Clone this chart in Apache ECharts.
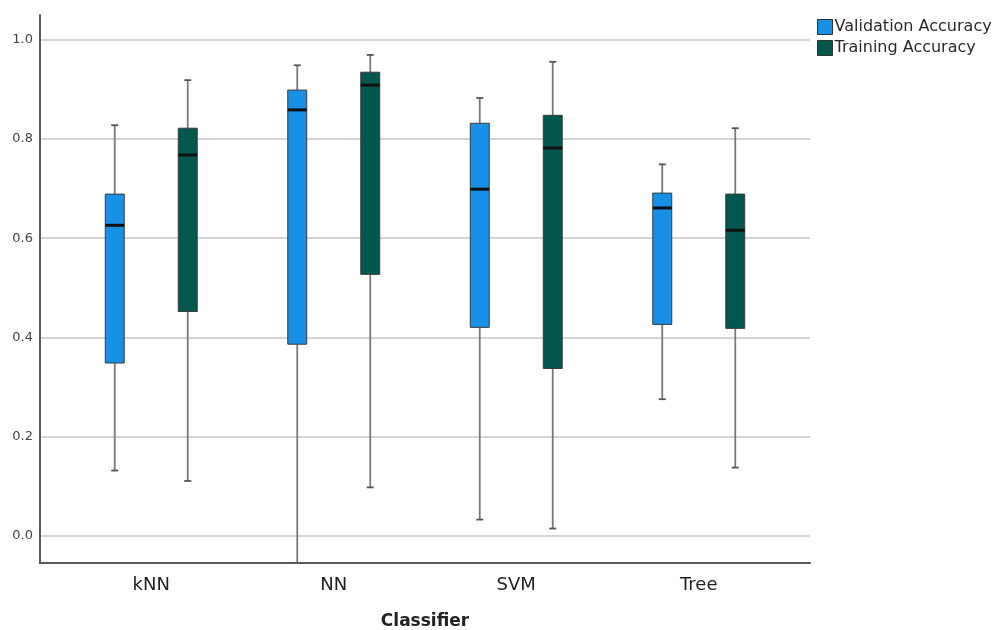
<!DOCTYPE html>
<html>
<head>
<meta charset="utf-8">
<script src="https://cdn.jsdelivr.net/npm/echarts@6/dist/echarts.min.js"></script>
<style>
  html, body { margin: 0; padding: 0; background: #fff; }
  #chart { width: 997px; height: 630px; }
</style>
</head>
<body>
<div id="chart"></div>
<script>
const classifiers = ['kNN', 'NN', 'SVM', 'Tree']
// [min, q1, median, q3, max] per classifier
const validationAcc = [
  [0.131, 0.348, 0.626, 0.689, 0.828],
  [-0.0556, 0.386, 0.859, 0.899, 0.949],
  [0.032, 0.420, 0.699, 0.832, 0.883],
  [0.275, 0.426, 0.661, 0.691, 0.749],
]
const trainingAcc = [
  [0.110, 0.452, 0.768, 0.822, 0.919],
  [0.097, 0.527, 0.909, 0.935, 0.970],
  [0.014, 0.337, 0.782, 0.848, 0.956],
  [0.137, 0.418, 0.616, 0.689, 0.822],
]
const seriesNames = ['Validation Accuracy', 'Training Accuracy']
const seriesColors = ['#1790e6', '#02574f']

const yMin = -0.0556
const yMax = 1.0505
const FONT = 'DejaVu Sans'

const renderBox = (params, api) => {
  const cat = api.value(0)
  const band = api.size([1, 0])[0]
  const off = (params.seriesIndex === 0 ? -0.2 : 0.2) * band
  const w = band * 0.104
  const x = api.coord([cat, 0])[0] + off
  const yLo = api.coord([cat, api.value(1)])[1]
  const yQ1 = api.coord([cat, api.value(2)])[1]
  const yMed = api.coord([cat, api.value(3)])[1]
  const yQ3 = api.coord([cat, api.value(4)])[1]
  const yHi = api.coord([cat, api.value(5)])[1]
  const whisker = { stroke: '#7a7a7a', lineWidth: 1.8 }
  const cap = 3.5
  return {
    type: 'group',
    children: [
      { type: 'line', shape: { x1: x, y1: yLo, x2: x, y2: yQ1 }, style: whisker },
      { type: 'line', shape: { x1: x, y1: yQ3, x2: x, y2: yHi }, style: whisker },
      { type: 'line', shape: { x1: x - cap, y1: yLo, x2: x + cap, y2: yLo }, style: { stroke: '#555', lineWidth: 1.8 } },
      { type: 'line', shape: { x1: x - cap, y1: yHi, x2: x + cap, y2: yHi }, style: { stroke: '#555', lineWidth: 1.8 } },
      {
        type: 'rect',
        shape: { x: x - w / 2, y: yQ3, width: w, height: yQ1 - yQ3 },
        style: { fill: api.visual('color'), stroke: '#3c3c3c', lineWidth: 1 },
      },
      { type: 'line', shape: { x1: x - w / 2, y1: yMed, x2: x + w / 2, y2: yMed }, style: { stroke: '#111', lineWidth: 3 } },
    ],
  }
}

const buildData = (stats) => stats.map((s, i) => [i, ...s])

const chart = echarts.init(document.getElementById('chart'))
chart.setOption({
  animation: false,
  backgroundColor: '#fff',
  textStyle: { fontFamily: FONT },
  legend: {
    orient: 'vertical',
    left: 812,
    top: 14,
    itemWidth: 15,
    itemHeight: 15,
    itemGap: 5,
    icon: 'rect',
    data: seriesNames.map(n => ({ name: n, itemStyle: { borderColor: '#333', borderWidth: 1 } })),
    textStyle: { fontFamily: FONT, fontSize: 16, color: '#2a2a2a', padding: [0, 0, 0, -3] },
  },
  grid: [
    { left: 40, right: 187, top: 15, bottom: 67, outerBoundsMode: 'none' },
    { left: 60, width: 730, top: 15, bottom: 67, outerBoundsMode: 'none' },
  ],
  xAxis: [
    {
      gridIndex: 0,
      type: 'value',
      min: 0,
      max: 1,
      axisLine: { show: true, onZero: false, lineStyle: { color: '#5a5a5a', width: 2 } },
      axisTick: { show: false },
      axisLabel: { show: false },
      splitLine: { show: false },
    },
    {
      gridIndex: 1,
      type: 'category',
      data: classifiers,
      axisLine: { show: false },
      axisTick: { show: false },
      axisLabel: { color: '#222', fontSize: 18, fontFamily: FONT, margin: 13 },
      name: 'Classifier',
      nameLocation: 'middle',
      nameGap: 50,
      nameTextStyle: { color: '#222', fontSize: 17, fontWeight: 'bold', fontFamily: FONT },
    },
  ],
  yAxis: [
    {
      gridIndex: 0,
      type: 'value',
      min: yMin,
      max: yMax,
      axisLine: { show: true, lineStyle: { color: '#5a5a5a', width: 2 } },
      axisTick: { show: false },
      axisLabel: {
        color: '#444',
        fontSize: 13,
        fontFamily: FONT,
        margin: 7,
        showMinLabel: false,
        showMaxLabel: false,
        formatter: v => v.toFixed(1),
      },
      splitLine: {
        show: true,
        lineStyle: {
          color: ['rgba(0,0,0,0)', '#d4d4d4', '#d4d4d4', '#d4d4d4', '#d4d4d4', '#d4d4d4', '#d4d4d4', 'rgba(0,0,0,0)'],
          width: 2,
        },
      },
    },
    { gridIndex: 1, type: 'value', min: yMin, max: yMax, show: false },
  ],
  series: [validationAcc, trainingAcc].map((stats, i) => ({
    name: seriesNames[i],
    type: 'custom',
    xAxisIndex: 1,
    yAxisIndex: 1,
    itemStyle: { color: seriesColors[i] },
    encode: { x: 0, y: [1, 2, 3, 4, 5] },
    clip: false,
    renderItem: renderBox,
    data: buildData(stats),
  })),
})
</script>
</body>
</html>
